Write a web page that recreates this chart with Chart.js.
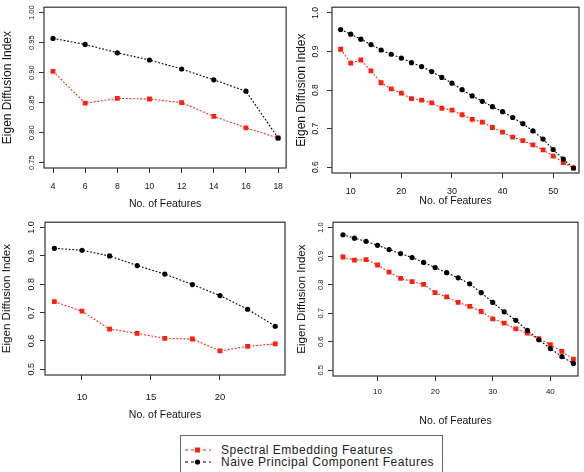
<!DOCTYPE html>
<html>
<head>
<meta charset="utf-8">
<script src="https://cdn.jsdelivr.net/npm/chart.js@4.4.0/dist/chart.umd.min.js"></script>
<style>
  body { margin: 0; background: #fff; width: 584px; height: 472px; overflow: hidden; position: relative; font-family: "Liberation Sans", Arial, sans-serif; }
  canvas { position: absolute; }
  #legend { position: absolute; left: 180px; top: 435px; width: 261px; height: 40px; border: 1px solid #666; background: #fff; font-size: 12px; letter-spacing: 0.5px; color: #222; }
  .row { position: absolute; left: 0; height: 12px; line-height: 12px; white-space: nowrap; }
  .row svg { position: absolute; left: 2px; top: 0; }
  .row span { position: absolute; left: 40px; }
</style>
</head>
<body>
<canvas id="c1" width="292" height="215" style="left:0;top:0"></canvas>
<canvas id="c2" width="292" height="215" style="left:292px;top:0"></canvas>
<canvas id="c3" width="292" height="220" style="left:0;top:215px"></canvas>
<canvas id="c4" width="292" height="220" style="left:292px;top:215px"></canvas>
<div id="legend">
  <div class="row" style="top:8px">
    <svg width="30" height="12"><line x1="2" y1="6" x2="28" y2="6" stroke="#ff1f0f" stroke-width="1.2" stroke-dasharray="3,3"/><rect x="12" y="3.5" width="5" height="5" fill="#ff1f0f"/></svg>
    <span>Spectral Embedding Features</span>
  </div>
  <div class="row" style="top:20px">
    <svg width="30" height="12"><line x1="2" y1="6" x2="28" y2="6" stroke="#000" stroke-width="1.2" stroke-dasharray="3,3"/><circle cx="14.5" cy="6" r="2.6" fill="#000"/></svg>
    <span>Naive Principal Component Features</span>
  </div>
</div>
<script>
const FONT = '"Liberation Sans", Arial, sans-serif';
const RED = '#ff1f0f';
const BLACK = '#000';

// --- Panel data ---
const p1Features = [4, 6, 8, 10, 12, 14, 16, 18];
const p1Spectral = [0.902, 0.849, 0.857, 0.856, 0.850, 0.827, 0.808, 0.791];
const p1Naive = [0.957, 0.947, 0.933, 0.921, 0.906, 0.888, 0.869, 0.791];
const p1XTicks = [4, 6, 8, 10, 12, 14, 16, 18];
const p1YTicks = [0.75, 0.80, 0.85, 0.90, 0.95, 1.00];

const p2Features = [8, 10, 12, 14, 16, 18, 20, 22, 24, 26, 28, 30, 32, 34, 36, 38, 40, 42, 44, 46, 48, 50, 52, 54];
const p2Spectral = [0.906, 0.870, 0.878, 0.850, 0.819, 0.803, 0.792, 0.778, 0.774, 0.767, 0.753, 0.748,
                    0.736, 0.724, 0.717, 0.703, 0.691, 0.678, 0.669, 0.658, 0.645, 0.629, 0.612, 0.598];
const p2Naive = [0.957, 0.945, 0.932, 0.918, 0.904, 0.893, 0.883, 0.871, 0.861, 0.848, 0.833, 0.818,
                 0.801, 0.785, 0.771, 0.757, 0.744, 0.729, 0.713, 0.694, 0.673, 0.646, 0.621, 0.598];
const p2XTicks = [10, 20, 30, 40, 50];
const p2YTicks = [0.6, 0.7, 0.8, 0.9, 1.0];

const p3Features = [8, 10, 12, 14, 16, 18, 20, 22, 24];
const p3Spectral = [0.739, 0.705, 0.642, 0.627, 0.609, 0.607, 0.565, 0.581, 0.590];
const p3Naive = [0.927, 0.920, 0.900, 0.866, 0.836, 0.799, 0.760, 0.712, 0.652];
const p3XTicks = [10, 15, 20];
const p3YTicks = [0.5, 0.6, 0.7, 0.8, 0.9, 1.0];

const p4Features = [4, 6, 8, 10, 12, 14, 16, 18, 20, 22, 24, 26, 28, 30, 32, 34, 36, 38, 40, 42, 44];
const p4Spectral = [0.897, 0.886, 0.888, 0.869, 0.844, 0.822, 0.811, 0.801, 0.772, 0.757, 0.738,
                    0.724, 0.706, 0.680, 0.665, 0.645, 0.630, 0.611, 0.590, 0.566, 0.539];
const p4Naive = [0.975, 0.963, 0.952, 0.938, 0.923, 0.909, 0.895, 0.878, 0.860, 0.842, 0.824,
                 0.803, 0.772, 0.738, 0.705, 0.675, 0.640, 0.607, 0.576, 0.548, 0.524];
const p4XTicks = [10, 20, 30, 40];
const p4YTicks = [0.5, 0.6, 0.7, 0.8, 0.9, 1.0];

// --- Layout of each panel (axis limits, paddings, font sizes) ---
const panels = [
  { id: 'c1', features: p1Features, spectral: p1Spectral, naive: p1Naive, xTicks: p1XTicks, yTicks: p1YTicks,
    xMin: 3.44, xMax: 18.5, yMin: 0.741, yMax: 1.009, decimals: 2,
    top: 4, right: 5, yWidth: 44, xHeight: 47,
    xTickSize: 8.5, xTickPad: 9, xTitleSize: 10.5, xTitlePad: 4.7,
    yTitleSize: 12, yTitlePad: 0, yLabelX: 32, yLabelSize: 7.5 },
  { id: 'c2', features: p2Features, spectral: p2Spectral, naive: p2Naive, xTicks: p2XTicks, yTicks: p2YTicks,
    xMin: 6.3, xMax: 55.1, yMin: 0.585, yMax: 1.015, decimals: 1,
    top: 3, right: 5, yWidth: 40, xHeight: 42,
    xTickSize: 9, xTickPad: 8.6, xTitleSize: 10.5, xTitlePad: 7.7,
    yTitleSize: 12, yTitlePad: 2.8, yLabelX: 24, yLabelSize: 8.5 },
  { id: 'c3', features: p3Features, spectral: p3Spectral, naive: p3Naive, xTicks: p3XTicks, yTicks: p3YTicks,
    xMin: 7.32, xMax: 24.71, yMin: 0.48, yMax: 1.019, decimals: 1,
    top: 2, right: 7, yWidth: 45, xHeight: 60,
    xTickSize: 9.5, xTickPad: 12, xTitleSize: 10.5, xTitlePad: 13.5,
    yTitleSize: 11.6, yTitlePad: 0, yLabelX: 32, yLabelSize: 9 },
  { id: 'c4', features: p4Features, spectral: p4Spectral, naive: p4Naive, xTicks: p4XTicks, yTicks: p4YTicks,
    xMin: 2.27, xMax: 44.8, yMin: 0.48, yMax: 1.019, decimals: 1,
    top: 2, right: 6, yWidth: 41, xHeight: 59,
    xTickSize: 8, xTickPad: 6.2, xTitleSize: 10.5, xTitlePad: 7.2,
    yTitleSize: 11.6, yTitlePad: 3, yLabelX: 29, yLabelSize: 7.5 }
];

// box round the plot region, like R's box()
const boxPlugin = {
  id: 'plotBox',
  afterDatasetsDraw(chart) {
    const a = chart.chartArea;
    const ctx = chart.ctx;
    ctx.save();
    ctx.strokeStyle = '#333';
    ctx.lineWidth = 1.2;
    ctx.strokeRect(a.left, a.top, a.right - a.left, a.bottom - a.top);
    ctx.restore();
  }
};

// y tick labels drawn rotated (parallel to the axis)
const yLabelPlugin = {
  id: 'yLabels',
  afterDraw(chart, args, opts) {
    const s = chart.scales.y;
    const ctx = chart.ctx;
    ctx.save();
    ctx.font = opts.size + 'px ' + FONT;
    ctx.fillStyle = '#111';
    ctx.textAlign = 'center';
    ctx.textBaseline = 'middle';
    s.ticks.forEach(t => {
      const y = s.getPixelForValue(t.value);
      ctx.save();
      ctx.translate(opts.x, y);
      ctx.rotate(-Math.PI / 2);
      ctx.fillText(t.value.toFixed(opts.decimals), 0, 0);
      ctx.restore();
    });
    ctx.restore();
  }
};

function makeChart(p) {
  const canvas = document.getElementById(p.id);
  return new Chart(canvas, {
    type: 'line',
    data: {
      datasets: [
        {
          label: 'Spectral Embedding Features',
          data: p.features.map((x, i) => ({ x: x, y: p.spectral[i] })),
          borderColor: RED,
          backgroundColor: RED,
          borderWidth: 1.1,
          borderDash: [1.8, 1.8],
          pointStyle: 'rect',
          pointRadius: 3.4,
          pointBorderWidth: 0,
          tension: 0,
          order: 2
        },
        {
          label: 'Naive Principal Component Features',
          data: p.features.map((x, i) => ({ x: x, y: p.naive[i] })),
          borderColor: BLACK,
          backgroundColor: BLACK,
          borderWidth: 1.1,
          borderDash: [1.8, 1.8],
          pointStyle: 'circle',
          pointRadius: 2.6,
          pointBorderWidth: 0,
          tension: 0,
          order: 1
        }
      ]
    },
    options: {
      responsive: false,
      animation: false,
      events: [],
      layout: { padding: { left: 0, top: p.top, right: p.right, bottom: 0 } },
      plugins: {
        legend: { display: false },
        tooltip: { enabled: false },
        yLabels: { x: p.yLabelX, size: p.yLabelSize, decimals: p.decimals }
      },
      scales: {
        x: {
          type: 'linear',
          min: p.xMin,
          max: p.xMax,
          afterBuildTicks: s => { s.ticks = p.xTicks.map(v => ({ value: v })); },
          afterFit: s => { s.height = p.xHeight; },
          border: { display: false },
          grid: { drawOnChartArea: false, drawTicks: true, tickLength: 5, color: '#333', lineWidth: 1 },
          ticks: { font: { family: FONT, size: p.xTickSize }, color: '#111', padding: p.xTickPad, maxRotation: 0, autoSkip: false },
          title: { display: true, text: 'No. of Features', color: '#111',
                   font: { family: FONT, size: p.xTitleSize }, padding: { top: 0, bottom: p.xTitlePad } }
        },
        y: {
          type: 'linear',
          min: p.yMin,
          max: p.yMax,
          afterBuildTicks: s => { s.ticks = p.yTicks.map(v => ({ value: v })); },
          afterFit: s => { s.width = p.yWidth; },
          border: { display: false },
          grid: { drawOnChartArea: false, drawTicks: true, tickLength: 5, color: '#333', lineWidth: 1 },
          ticks: { callback: () => '', padding: 0 },
          title: { display: true, text: 'Eigen Diffusion Index', color: '#111',
                   font: { family: FONT, size: p.yTitleSize }, padding: { top: p.yTitlePad, bottom: 0 } }
        }
      }
    },
    plugins: [boxPlugin, yLabelPlugin]
  });
}

panels.forEach(makeChart);
</script>
</body>
</html>
